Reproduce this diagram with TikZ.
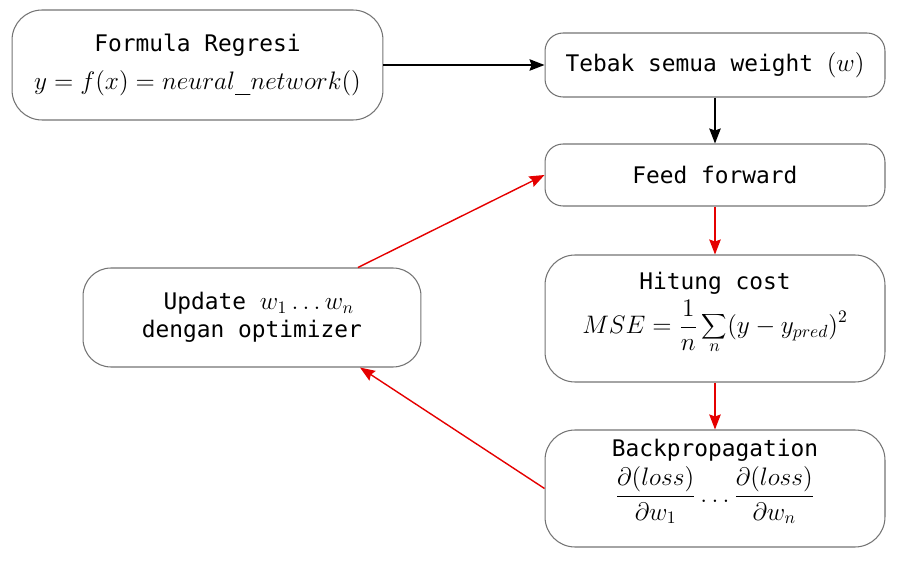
\documentclass[tikz,border=0pt]{standalone}
\usepackage{fontspec}
\setmonofont{DejaVu Sans Mono}
\usetikzlibrary{arrows.meta}
\newcommand{\mathbox}[1]{{\fontsize{14.5}{20}\selectfont$#1$}}
\begin{document}
\begin{tikzpicture}[x=0.02cm, y=-0.02cm]
    \tikzstyle{proc} = [rectangle, rounded corners=0.6cm, minimum width=6.8cm, draw=black!55, line width=0.6pt, text centered, align=center, font=\ttfamily\fontsize{13}{22}\selectfont]
    \tikzstyle{proc1} = [proc, rounded corners=0.36cm]
    \tikzstyle{arrow} = [thick,->,>={Stealth[length=3mm, width=2.3mm, inset=0.4mm]}]
    \tikzstyle{arrowred} = [arrow, red!90!black]
    \useasboundingbox (0,0) rectangle (900,564);
    \node (a) [proc, minimum width=7.42cm, minimum height=2.2cm] at (197.5, 65) {Formula Regresi\\ \mathbox{y = f(x) = neural\_network()}};
    \node (b) [proc1, minimum height=1.28cm] at (715, 65) {Tebak semua weight \mathbox{(w)}};
    \node (c) [proc1, minimum height=1.24cm] at (715, 175) {Feed forward};
    \node (d) [proc, minimum height=2.54cm] at (715, 318.5) {Hitung cost\\[3pt] \mathbox{\displaystyle MSE = \frac{1}{n}\sum_{n}(y - y_{pred})^2}\\[-4pt]};
    \node (e) [proc, minimum height=2.34cm] at (715, 488.5) {Backpropagation\\[2pt] \mathbox{\displaystyle \frac{\partial(loss)}{\partial w_1}\dots\frac{\partial(loss)}{\partial w_n}}\\[-2pt]};
    \node (f) [proc, minimum width=6.76cm, minimum height=1.98cm, rounded corners=0.56cm] at (252, 317.5) {\ Update \mathbox{w_1\dots w_n}\\[-6pt] dengan optimizer};
    \draw[arrow] (a) to (b);
    \draw[arrow] (b) to (c);
    \draw[arrowred] (c) to (d);
    \draw[arrowred] (d) to (e);
    \draw[arrowred] (e.west) to ([xshift=2.16cm]f.south);
    \draw[arrowred] ([xshift=2.12cm]f.north) to (c.west);
  \end{tikzpicture}
\end{document}
